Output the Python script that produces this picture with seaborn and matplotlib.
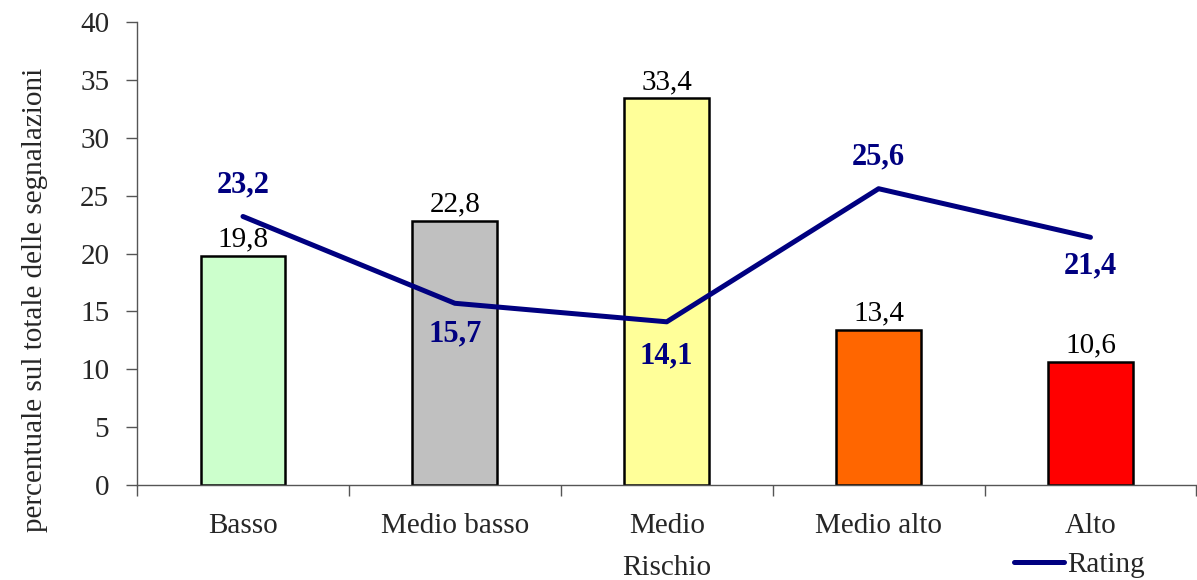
import numpy as np
import pandas as pd
import matplotlib
matplotlib.use("Agg")
import matplotlib.pyplot as plt
import seaborn as sns
from matplotlib.lines import Line2D

categories = ["Basso", "Medio basso", "Medio", "Medio alto", "Alto"]
percent = [19.8, 22.8, 33.4, 13.4, 10.6]
rating = [23.2, 15.7, 14.1, 25.6, 21.4]
bar_colors = ["#CCFFCC", "#C0C0C0", "#FFFF99", "#FF6600", "#FF0000"]
line_color = "#000080"

sns.set_theme(style="white")
plt.rcParams["font.family"] = ["Liberation Serif", "DejaVu Serif"]
FS = 21
plt.rcParams["font.size"] = FS

df = pd.DataFrame({"Rischio": categories, "pct": percent, "rating": rating})

fig = plt.figure(figsize=(11.97, 5.8), dpi=100)
ax = fig.add_axes([0.1145, 0.1638, 0.885, 0.7982])

sns.barplot(data=df, x="Rischio", y="pct", hue="Rischio", order=categories,
            palette=bar_colors, edgecolor="black", linewidth=1.8,
            width=0.4, legend=False, ax=ax, saturation=1)

xpos = np.arange(len(categories))
sns.lineplot(x=xpos, y=rating, color=line_color, linewidth=3.6, ax=ax,
             sort=False)

# bar value labels
for i, v in enumerate(percent):
    ax.text(i, v + 0.3, f"{v:.1f}".replace(".", ","), ha="center",
            va="bottom", fontsize=FS, color="black")

# rating labels (above or below the line point)
offsets = [1.5, -1.4, -1.7, 1.5, -1.2]
for i, (v, off) in enumerate(zip(rating, offsets)):
    ax.text(i, v + off, f"{v:.1f}".replace(".", ","), ha="center",
            va="bottom" if off > 0 else "top", fontsize=FS + 1,
            fontweight="bold", color=line_color)

ax.set_xlim(-0.5, len(categories) - 0.5)
ax.set_ylim(0, 40)
ax.set_yticks(np.arange(0, 41, 5))
ax.set_xticks(np.arange(-0.5, len(categories), 1.0))
ax.set_xticklabels([])
ax.set_xticks(xpos, minor=True)
ax.set_xticklabels(categories, minor=True)
ax.tick_params(axis="x", which="major", direction="out", length=8,
               width=1, color="#555555", bottom=True)
ax.tick_params(axis="x", which="minor", length=0, pad=20, labelsize=FS,
               bottom=True)
ax.tick_params(axis="y", direction="out", length=8, width=1,
               color="#555555", left=True, labelsize=FS, pad=12)

for side in ["top", "right"]:
    ax.spines[side].set_visible(False)
for side in ["left", "bottom"]:
    ax.spines[side].set_color("#555555")
    ax.spines[side].set_linewidth(1)

ax.set_xlabel("Rischio", fontsize=FS, labelpad=12)
ax.set_ylabel("percentuale sul totale delle segnalazioni", fontsize=FS)
ax.yaxis.set_label_coords(-0.084, 0.40)

handle = Line2D([0], [0], color=line_color, linewidth=3.6)
ax.legend([handle], ["Rating"], loc="lower right",
          bbox_to_anchor=(0.962, -0.226), frameon=False, fontsize=FS,
          handlelength=1.7, handletextpad=0.1, borderaxespad=0)

fig.savefig("out.png", dpi=100)
